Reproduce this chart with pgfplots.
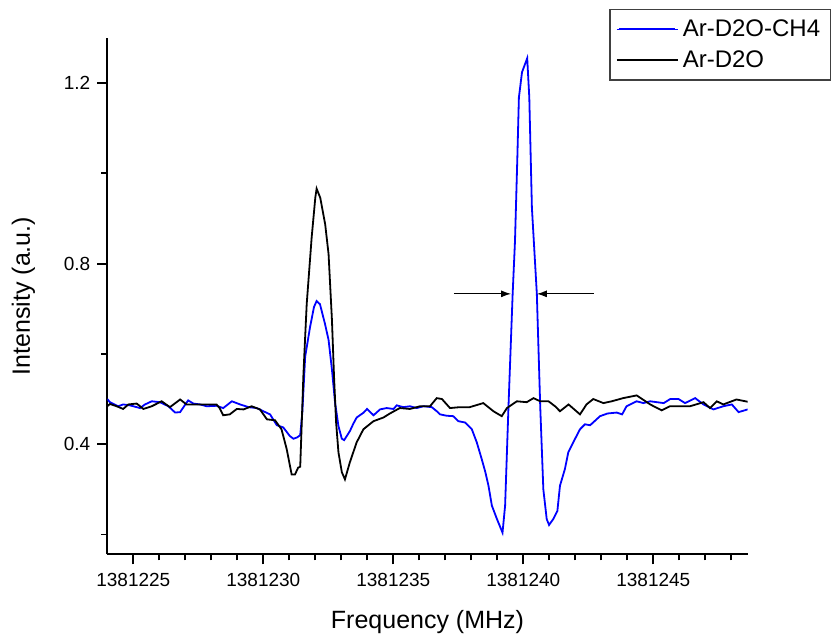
\documentclass[border=0pt]{standalone}
\usepackage{fontspec}
\setmainfont{Liberation Sans}
\usepackage{pgfplots}
\pgfplotsset{compat=1.18}
\usetikzlibrary{arrows.meta}
\definecolor{bl}{RGB}{0,0,255}
\begin{document}
\begin{tikzpicture}
\useasboundingbox (-53.65pt,-39.85pt) rectangle (362.85pt,277.15pt);
\begin{axis}[
  at={(0,0)}, anchor=south west,
  scale only axis, width=320.2pt, height=258.2pt,
  xmin=4, xmax=28.63, ymin=0.156, ymax=1.3,
  axis lines*=left,
  axis line style={line width=0.9pt},
  tick align=outside,
  major tick length=5pt, minor tick length=3pt,
  every tick/.style={black, line width=0.9pt},
  xtick={5,10,15,20,25},
  xticklabels={1381225,1381230,1381235,1381240,1381245},
  minor xtick={6,7,8,9,11,12,13,14,16,17,18,19,21,22,23,24,26,27,28},
  ytick={0.4,0.8,1.2},
  yticklabels={0.4,0.8,1.2},
  minor ytick={0.2,0.6,1.0},
  ticklabel style={font=\fontsize{9.5pt}{11pt}\selectfont},
  xticklabel style={yshift=-1pt},
  /pgf/number format/assume math mode=true,
  xtick pos=bottom, ytick pos=left,
  xlabel={Frequency (MHz)},
  ylabel={Intensity (a.u.)},
  label style={font=\fontsize{12.5pt}{14pt}\selectfont},
  xlabel style={yshift=-5pt},
  ylabel style={yshift=7.5pt},
  legend cell align=left,
  legend style={at={(0.784,1.056)}, anchor=north west, draw=black!75, line width=0.6pt,
    font=\fontsize{12pt}{14pt}\selectfont, inner xsep=3pt, inner ysep=3pt,
    row sep=1.5pt},
  legend image code/.code={\path (0pt,0pt) -- (30.5pt,0pt);\draw[line width=1pt,#1] (1pt,0pt) -- (29pt,0pt);},
]
\addplot[bl, line width=0.9pt] coordinates {
(4.00,0.500) (4.10,0.493) (4.42,0.484) (4.61,0.488) (4.87,0.486) (5.26,0.480) (5.45,0.488)
(5.71,0.495) (6.02,0.493) (6.35,0.484) (6.61,0.470) (6.80,0.471) (7.11,0.497) (7.31,0.490)
(7.57,0.488) (7.82,0.484) (8.20,0.485) (8.46,0.480) (8.79,0.495) (9.11,0.488) (9.43,0.482)
(9.75,0.480) (10.00,0.473) (10.26,0.466) (10.52,0.442) (10.77,0.437) (11.02,0.418) (11.16,0.412)
(11.30,0.415) (11.42,0.420) (11.50,0.470) (11.61,0.594) (11.80,0.660) (11.95,0.704) (12.05,0.717)
(12.18,0.710) (12.37,0.667) (12.51,0.631) (12.64,0.565) (12.76,0.492) (12.89,0.440) (13.02,0.412)
(13.11,0.409) (13.21,0.418) (13.33,0.429) (13.46,0.445) (13.59,0.459) (13.86,0.470) (13.99,0.478)
(14.24,0.464) (14.49,0.477) (14.74,0.480) (15.01,0.478) (15.13,0.486) (15.39,0.482) (15.64,0.484)
(15.90,0.480) (16.16,0.484) (16.48,0.482) (16.67,0.473) (16.80,0.466) (17.05,0.463) (17.31,0.462)
(17.50,0.451) (17.76,0.448) (18.02,0.433) (18.21,0.404) (18.40,0.367) (18.54,0.338) (18.66,0.308)
(18.79,0.264) (18.98,0.235) (19.20,0.204) (19.30,0.264) (19.43,0.484) (19.59,0.733) (19.68,0.850)
(19.77,1.034) (19.83,1.168) (19.95,1.224) (20.15,1.255) (20.23,1.168) (20.33,0.924) (20.52,0.733)
(20.65,0.484) (20.77,0.300) (20.90,0.234) (20.99,0.221) (21.15,0.234) (21.31,0.252) (21.41,0.308)
(21.60,0.345) (21.73,0.382) (21.92,0.404) (22.18,0.433) (22.37,0.444) (22.57,0.442) (22.95,0.462)
(23.24,0.468) (23.59,0.470) (23.80,0.466) (23.97,0.484) (24.36,0.495) (24.62,0.491) (24.88,0.495)
(25.40,0.491) (25.65,0.500) (25.97,0.500) (26.22,0.491) (26.61,0.502) (26.93,0.488) (27.31,0.477)
(27.69,0.484) (28.02,0.488) (28.28,0.471) (28.63,0.477)
};
\addlegendentry{Ar-D2O-CH4}
\addplot[black, line width=0.9pt] coordinates {
(4.00,0.484) (4.10,0.489) (4.36,0.484) (4.61,0.478) (4.81,0.488) (5.13,0.490) (5.39,0.478)
(5.71,0.484) (6.09,0.495) (6.41,0.482) (6.80,0.499) (7.05,0.488) (7.57,0.488) (8.20,0.488)
(8.32,0.480) (8.46,0.464) (8.71,0.466) (8.98,0.478) (9.24,0.477) (9.55,0.484) (9.87,0.477)
(10.14,0.455) (10.45,0.453) (10.70,0.433) (10.90,0.389) (11.09,0.333) (11.22,0.333) (11.34,0.348)
(11.42,0.350) (11.54,0.550) (11.61,0.638) (11.67,0.711) (11.86,0.858) (12.00,0.946) (12.05,0.966)
(12.19,0.946) (12.38,0.887) (12.51,0.821) (12.64,0.675) (12.72,0.550) (12.80,0.448) (12.89,0.382)
(13.02,0.338) (13.14,0.322) (13.33,0.360) (13.59,0.404) (13.85,0.433) (14.24,0.451) (14.62,0.459)
(14.87,0.468) (15.25,0.480) (15.64,0.478) (16.03,0.484) (16.41,0.484) (16.67,0.502) (16.87,0.500)
(17.18,0.480) (17.56,0.482) (17.94,0.482) (18.46,0.491) (18.85,0.473) (19.17,0.462) (19.37,0.480)
(19.75,0.495) (20.13,0.493) (20.39,0.502) (20.65,0.495) (20.97,0.495) (21.22,0.484) (21.41,0.473)
(21.74,0.488) (22.18,0.466) (22.43,0.488) (22.69,0.500) (23.08,0.491) (23.40,0.495) (23.84,0.502)
(24.36,0.508) (24.88,0.488) (25.32,0.475) (25.64,0.484) (26.41,0.484) (26.93,0.493) (27.18,0.480)
(27.44,0.495) (27.69,0.488) (28.20,0.499) (28.63,0.494)
};
\addlegendentry{Ar-D2O}
\draw[black, line width=0.6pt, -{Latex[length=5pt,width=3.5pt]}] (axis cs:17.33,0.733) -- (axis cs:19.53,0.733);
\draw[black, line width=0.6pt, -{Latex[length=5pt,width=3.5pt]}] (axis cs:22.70,0.733) -- (axis cs:20.52,0.733);
\end{axis}
\end{tikzpicture}
\end{document}
